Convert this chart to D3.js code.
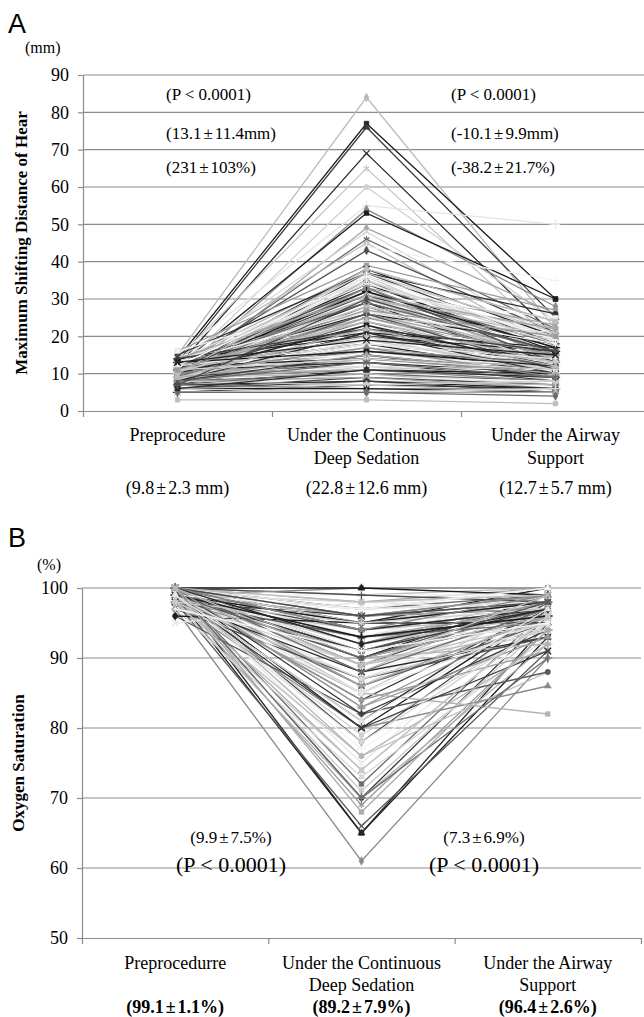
<!DOCTYPE html>
<html>
<head>
<meta charset="utf-8">
<script src="https://cdn.jsdelivr.net/npm/d3@7"></script>
<style>
  body { margin: 0; background: #fff; }
  svg { display: block; }
  text { font-family: "Liberation Serif", "Times New Roman", serif; fill: #000; }
</style>
</head>
<body>
<svg id="chart" width="644" height="1017"></svg>
<script>
// ---- data: panel A (maximum shifting distance, mm), one entry per patient
const preA  = [15,14,13,12,14,11,15,10,12,9,13,11,14,10,12,16,13,11,9,15,12,10,14,8,11,13,10,12,9,16,11,8,12,10,13,9,11,14,7,10,12,8,13,9,11,10,7,12,9,14,8,11,10,13,7,9,12,8,10,11,9,13,7,10,8,12,9,11,6,10,8,9,7,10,6,8,9,7,6,8,5,7,6,5,8,6,5,7,6,5,6,5,3,9,12,10,11,14,8,6,
               12,10,13,9,11,14,8,12,10,13,9,11,12,10,14,8,11,9,12,10,13,9,11,8,10,12,7,11,9,13];
const deepA = [84,77,76,69,65,60,55,54,53,49,48,46,45,44,43,39,38,38,37,37,36,36,35,35,34,33,33,32,32,31,31,30,30,29,29,28,28,27,27,26,26,25,25,24,24,23,23,22,22,21,21,20,20,19,19,18,18,17,17,16,16,15,15,14,14,14,13,13,12,12,12,11,11,11,10,10,10,9,9,9,8,8,8,7,7,7,6,6,6,5,5,5,3,18,33,26,30,20,15,11,
               37,35,34,33,32,31,30,29,28,27,26,25,24,23,22,21,20,19,18,17,16,15,14,13,38,36,30,27,22,19];
const airA  = [22,30,25,20,18,24,50,28,30,26,19,22,17,35,21,27,24,20,18,26,15,22,19,14,16,23,13,18,12,25,17,14,20,11,16,13,19,15,10,12,18,13,21,11,14,16,9,13,10,17,12,14,9,15,11,13,10,12,8,13,11,12,9,10,12,11,8,10,9,7,11,8,10,9,7,8,6,8,7,6,7,6,5,6,5,8,5,6,5,5,6,4,2,13,13,15,22,16,10,9,
               21,18,20,15,17,22,12,16,14,18,11,15,13,12,16,10,13,11,14,9,12,10,11,9,24,19,16,20,12,15];

// ---- data: panel B (oxygen saturation, %)
const preB  = [97,99,100,98,99,100,98,99,100,97,99,100,98,99,100,99,98,100,99,96,100,99,98,100,99,100,98,99,100,99,100,98,99,100,99,100,98,99,100,99,100,97,99,100,98,100,99,100,99,96,100,99,100,98,100,99,100,99,100,95,100,99,100,100,99,100,98,100,99,100,99,100,98,100,99,100,99,100,97,100,
               100,99,100,98,100,99,100,99,100,98,100,99,100,99,100,98,100,99,100,99,100,99,100,98,100,99,100,99,100,97];
const deepB = [61,65,65,66,69,70,70,71,72,73,74,75,76,77,78,79,80,80,81,82,83,84,85,85,86,86,87,87,88,88,89,89,90,90,90,91,91,91,92,92,92,93,93,93,94,94,94,95,95,95,95,96,96,96,97,97,97,98,98,98,99,99,99,100,100,100,88,86,84,82,90,92,93,94,96,97,89,91,87,95,
               96,95,94,93,92,91,90,89,88,87,86,85,98,97,96,95,94,93,92,90,83,80,76,74,70,78,68,81,89,91];
const airB  = [90,93,95,91,94,96,92,95,97,93,96,98,88,94,97,95,86,97,98,88,96,97,82,98,96,99,94,97,99,95,98,96,97,99,96,98,95,97,99,96,98,94,97,99,96,98,97,99,98,95,100,98,99,97,100,98,99,99,100,97,100,99,98,100,100,99,93,95,91,94,92,96,95,97,97,98,94,97,93,98,
               99,98,97,96,98,97,96,95,97,94,96,95,99,100,98,97,99,96,97,98,93,91,92,96,90,95,94,97,99,95];

const catLinesA = [["Preprocedure"], ["Under the Continuous", "Deep Sedation"], ["Under the Airway", "Support"]];
const catLinesB = [["Preprocedurre"], ["Under the Continuous", "Deep Sedation"], ["Under the Airway", "Support"]];
const catMeansA = ["(9.8±2.3 mm)", "(22.8±12.6 mm)", "(12.7±5.7 mm)"];
const catMeansB = ["(99.1±1.1%)", "(89.2±7.9%)", "(96.4±2.6%)"];
const ticksA = [0, 10, 20, 30, 40, 50, 60, 70, 80, 90];
const ticksB = [50, 60, 70, 80, 90, 100];
const notesLeftA  = ["(P < 0.0001)", "(13.1±11.4mm)", "(231±103%)"];
const notesRightA = ["(P < 0.0001)", "(-10.1±9.9mm)", "(-38.2±21.7%)"];
const notesB = [["(9.9±7.5%)", "(P < 0.0001)"], ["(7.3±6.9%)", "(P < 0.0001)"]];

// grey shades standing in for the original Excel series colours
const PALETTE_A = ["#b8b8b8", "#202020", "#3a3a3a", "#2c2c2c", "#c6c6c6", "#d0d0d0", "#e4e4e4",
  "#8a8a8a", "#1c1c1c", "#a6a6a6", "#d8d8d8", "#6a6a6a", "#bdbdbd", "#f2f2f2", "#4e4e4e", "#9a9a9a"];
const PALETTE_B = ["#8a8a8a", "#1c1c1c", "#262626", "#5a5a5a", "#9a9a9a", "#3a3a3a", "#b4b4b4",
  "#c8c8c8", "#6c6c6c", "#d8d8d8", "#aaaaaa", "#e6e6e6", "#bebebe", "#f2f2f2", "#4a4a4a", "#cfcfcf"];
const SYMBOLS = [
  { type: d3.symbolDiamond, fill: true },
  { type: d3.symbolSquare, fill: true },
  { type: d3.symbolTriangle, fill: true },
  { type: d3.symbolTimes || d3.symbolCross, fill: false },
  { type: d3.symbolAsterisk || d3.symbolStar, fill: false },
  { type: d3.symbolCircle, fill: true },
  { type: d3.symbolPlus || d3.symbolCross, fill: false },
];

const svg = d3.select("#chart");
svg.append("rect").attr("width", 644).attr("height", 1017).attr("fill", "#fff");

// write a string, widening the ± the way the source font did
function addPM(sel, str) {
  str.split("±").forEach((s, k) => {
    if (k > 0) sel.append("tspan").attr("dx", 2).text("±");
    sel.append("tspan").attr("dx", k > 0 ? 2 : 0).text(s);
  });
}

function drawPanel(p) {
  const g = svg.append("g");
  const x = d3.scaleBand().domain(d3.range(3)).range([p.left, p.left + 3 * p.band]);
  const cx = (i) => x(i) + x.bandwidth() / 2;
  const y = d3.scaleLinear().domain(p.domain).range([p.bottom, p.top]);

  // horizontal gridlines
  g.append("g").selectAll("line")
    .data(p.ticks.filter((t) => t !== p.domain[0]))
    .join("line")
    .attr("x1", p.left).attr("x2", p.gridRight)
    .attr("y1", (d) => y(d)).attr("y2", (d) => y(d))
    .attr("stroke", "#8c8c8c").attr("stroke-width", 1.2);

  // y axis
  const ya = g.append("g").attr("transform", `translate(${p.left},0)`)
    .call(d3.axisLeft(y).tickValues(p.ticks).tickSize(5).tickSizeOuter(0).tickPadding(9).tickFormat(d3.format("d")));
  ya.select(".domain").attr("stroke", "#8c8c8c").attr("stroke-width", 1.2);
  ya.selectAll(".tick line").attr("stroke", "#8c8c8c").attr("stroke-width", 1.2);
  ya.selectAll(".tick text").attr("font-family", "Liberation Serif, serif").attr("font-size", 18).attr("fill", "#000");

  // x axis line with ticks at the category boundaries
  const xb = d3.scaleLinear().domain([0, 3]).range([p.left, p.left + 3 * p.band]);
  const xa = g.append("g").attr("transform", `translate(0,${p.bottom})`)
    .call(d3.axisBottom(xb).tickValues([0, 1, 2, 3]).tickSize(6).tickSizeOuter(0).tickFormat(""));
  xa.select(".domain").attr("stroke", "#8c8c8c").attr("stroke-width", 1.2);
  xa.selectAll(".tick line").attr("stroke", "#8c8c8c").attr("stroke-width", 1.2);

  // one line + markers per patient
  const line = d3.line().x((d) => cx(d[0])).y((d) => y(d[1]));
  const series = p.pre.map((v, i) => [[0, v], [1, p.deep[i]], [2, p.air[i]]]);
  const sg = g.append("g").selectAll("g").data(series).join("g");
  sg.append("path")
    .attr("d", line)
    .attr("fill", "none")
    .attr("stroke", (d, i) => p.palette[i % p.palette.length])
    .attr("stroke-width", 1.3);
  sg.each(function (d, i) {
    const col = p.palette[i % p.palette.length];
    const sym = SYMBOLS[i % SYMBOLS.length];
    d3.select(this).selectAll("path.mk").data(d).join("path")
      .attr("class", "mk")
      .attr("transform", (q) => `translate(${cx(q[0])},${y(q[1])})`)
      .attr("d", d3.symbol().type(sym.type).size(sym.fill ? 22 : 30))
      .attr("fill", sym.fill ? col : "none")
      .attr("stroke", col)
      .attr("stroke-width", sym.fill ? 0.5 : 1.2);
  });

  // category labels
  p.catLines.forEach((lines, i) => {
    lines.forEach((t, k) => {
      g.append("text").attr("x", cx(i)).attr("y", p.catY[k])
        .attr("text-anchor", "middle").attr("font-size", 18).text(t);
    });
    const m = g.append("text").attr("x", cx(i)).attr("y", p.catY[2])
      .attr("text-anchor", "middle").attr("font-size", 18)
      .attr("font-weight", p.meanBold ? "bold" : "normal");
    addPM(m, p.catMeans[i]);
  });

  // panel letter, unit and axis title
  svg.append("text").attr("x", 8).attr("y", p.letterY)
    .style("font-family", "Liberation Sans, Arial, sans-serif").attr("font-size", 27).text(p.letter);
  svg.append("text").attr("x", p.unitX).attr("y", p.unitY).attr("font-size", 16).text(p.unit);
  svg.append("text")
    .attr("transform", `translate(${p.titleX},${(p.top + p.bottom) / 2}) rotate(-90)`)
    .attr("text-anchor", "middle").attr("font-size", p.titleSize).attr("font-weight", "bold")
    .text(p.title);

  return { g, cx, y };
}

// ---- panel A
const A = drawPanel({
  left: 83, band: 189, top: 75, bottom: 411, gridRight: 644,
  domain: [0, 90], ticks: ticksA,
  pre: preA, deep: deepA, air: airA, palette: PALETTE_A,
  catLines: catLinesA, catMeans: catMeansA, catY: [441, 464, 494], meanBold: false,
  letter: "A", letterY: 33, unit: "(mm)", unitX: 25, unitY: 53,
  title: "Maximum Shifting Distance of Hear", titleX: 27, titleSize: 17,
});
[[notesLeftA, 166], [notesRightA, 451]].forEach(([notes, x0]) => {
  notes.forEach((t, k) => {
    const tx = A.g.append("text").attr("x", x0).attr("y", [100, 139, 173][k]).attr("font-size", 17);
    addPM(tx, t);
  });
});

// ---- panel B
const B = drawPanel({
  left: 82, band: 186.3, top: 588, bottom: 938, gridRight: 641,
  domain: [50, 100], ticks: ticksB,
  pre: preB, deep: deepB, air: airB, palette: PALETTE_B,
  catLines: catLinesB, catMeans: catMeansB, catY: [969, 991, 1013], meanBold: true,
  letter: "B", letterY: 547, unit: "(%)", unitX: 37, unitY: 570,
  title: "Oxygen Saturation", titleX: 24, titleSize: 17,
});
notesB.forEach(([small, big], k) => {
  const xc = [231, 484][k];
  const t1 = B.g.append("text").attr("x", xc).attr("y", 843).attr("text-anchor", "middle").attr("font-size", 17);
  addPM(t1, small);
  B.g.append("text").attr("x", xc).attr("y", 872).attr("text-anchor", "middle").attr("font-size", 22).text(big);
});
</script>
</body>
</html>
